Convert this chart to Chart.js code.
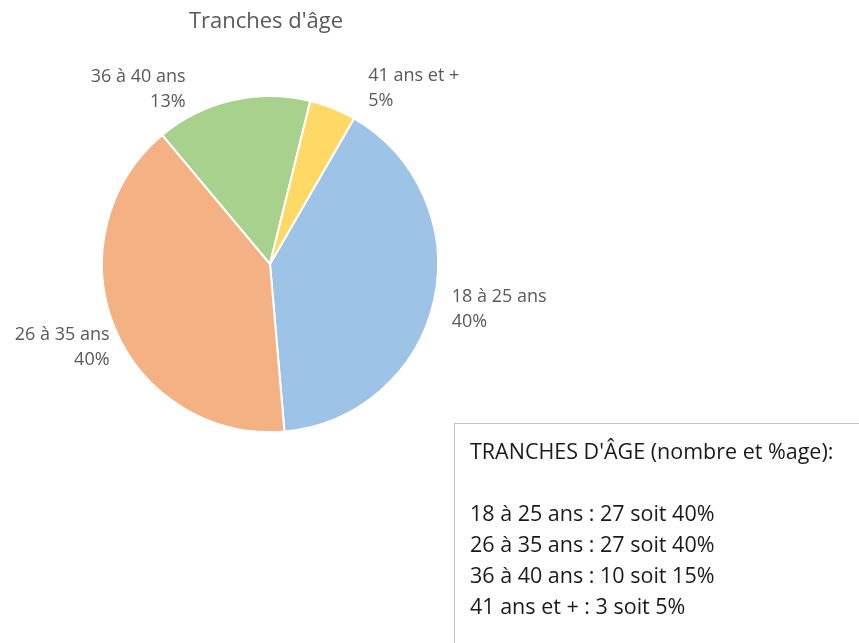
<!DOCTYPE html>
<html>
<head>
<meta charset="utf-8">
<script src="https://cdn.jsdelivr.net/npm/chart.js@4.4.0/dist/chart.umd.min.js"></script>
<style>
    html, body { margin: 0; padding: 0; background: #fff; overflow: hidden; }
    #wrap { position: relative; width: 859px; height: 643px; }
    #chart { position: absolute; left: 0; top: 0; }
    .note {
        position: absolute;
        left: 454px;
        top: 423px;
        width: 440px;
        height: 260px;
        border: 1px solid #c4c4c4;
        box-sizing: border-box;
        padding: 11px 0 0 15px;
        font-family: "Open Sans", sans-serif;
        font-size: 21.5px;
        line-height: 31px;
        color: #1a1a1a;
        white-space: pre;
    }
</style>
</head>
<body>
<div id="wrap">
    <canvas id="chart" width="859" height="643"></canvas>
    <div class="note" id="note"></div>
</div>
<script>
const chartTitle = "Tranches d'âge";
const categories = ["18 à 25 ans", "26 à 35 ans", "36 à 40 ans", "41 ans et +"];
const counts = [27, 27, 10, 3];
const percentLabels = ["40%", "40%", "13%", "5%"];
const notePercents = ["40%", "40%", "15%", "5%"];
const colors = ["#9dc3e6", "#f4b183", "#a9d18e", "#ffd966"];

// text box under the pie
const noteLines = ["TRANCHES D'ÂGE (nombre et %age):", ""];
categories.forEach((c, i) => {
    noteLines.push(c + " : " + counts[i] + " soit " + notePercents[i]);
});
document.getElementById("note").textContent = noteLines.join("\n");

// label nudges (px) relative to the slice's outside point
const labelNudge = [[6, 6], [6, 14], [-44, 0], [31, -9]];

const pieLabels = {
    id: "pieLabels",
    afterDraw(chart) {
        const ctx = chart.ctx;
        const meta = chart.getDatasetMeta(0);
        ctx.save();
        ctx.fillStyle = "#595959";
        ctx.textBaseline = "middle";

        // title
        const first = meta.data[0];
        ctx.textAlign = "center";
        ctx.font = "22px 'Open Sans', sans-serif";
        ctx.fillText(chartTitle, first.x - 4, 22);

        ctx.font = "18px 'Open Sans', sans-serif";
        meta.data.forEach((arc, i) => {
            const mid = (arc.startAngle + arc.endAngle) / 2;
            const r = arc.outerRadius + 12;
            const x = arc.x + Math.cos(mid) * r + labelNudge[i][0];
            const y = arc.y + Math.sin(mid) * r + labelNudge[i][1];
            ctx.textAlign = x > arc.x ? "left" : "right";
            ctx.fillText(categories[i], x, y - 12);
            ctx.fillText(percentLabels[i], x, y + 13);
        });
        ctx.restore();
    }
};

const chartCanvas = document.getElementById("chart").getContext("2d");
new Chart(chartCanvas, {
    type: "pie",
    data: {
        labels: categories,
        datasets: [
            {
                data: counts,
                backgroundColor: colors,
                borderColor: "#ffffff",
                borderWidth: 2,
            },
        ],
    },
    options: {
        responsive: false,
        animation: false,
        rotation: 30,
        layout: {
            padding: { left: 101, top: 95, right: 420, bottom: 210 },
        },
        plugins: {
            legend: { display: false },
            tooltip: { enabled: false },
        },
    },
    plugins: [pieLabels],
});
</script>
</body>
</html>
